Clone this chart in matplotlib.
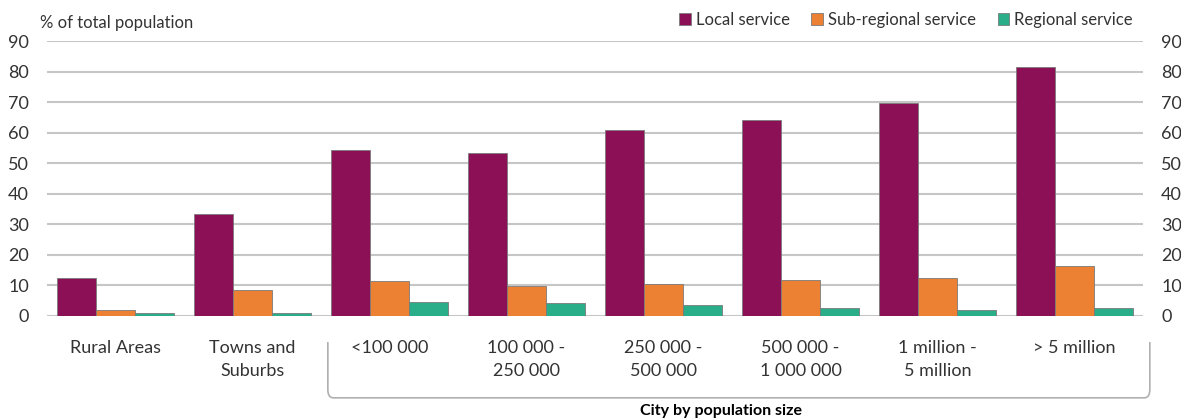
import matplotlib.pyplot as plt
import matplotlib.transforms as mtransforms
from matplotlib.path import Path
import matplotlib.patches as patches
import numpy as np

plt.rcParams['font.family'] = ['Lato', 'DejaVu Sans']

categories = ['Rural Areas', 'Towns and\nSuburbs', '<100 000', '100 000 -\n250 000',
              '250 000 -\n500 000', '500 000 -\n1 000 000', '1 million -\n5 million', '> 5 million']
local = [12.3, 33.3, 54.4, 53.4, 61.0, 64.2, 69.8, 81.5]
sub_regional = [1.8, 8.6, 11.3, 9.9, 10.6, 11.6, 12.5, 16.5]
regional = [0.8, 0.9, 4.6, 4.1, 3.5, 2.5, 2.0, 2.5]
series_names = ['Local service', 'Sub-regional service', 'Regional service']
colors = ['#8C1056', '#ED8133', '#2AAE8A']

fig = plt.figure(figsize=(11.81, 4.19), dpi=100)
ax = fig.add_axes([0.0398, 0.246, 0.928, 0.656])

x = np.arange(len(categories))
w = 0.285
for k, (vals, name, c) in enumerate(zip([local, sub_regional, regional], series_names, colors)):
    ax.bar(x + (k - 1) * w, vals, width=w, color=c, edgecolor='#7a7a7a', linewidth=0.6,
           label=name, zorder=3)

ax.set_xlim(-0.5, len(categories) - 0.5)
ax.set_ylim(0, 90)
ax.set_yticks(range(0, 91, 10))
ax.yaxis.grid(True, color='#c6c6c6', linewidth=1.5, zorder=0)
ax.set_axisbelow(True)
for s in ax.spines.values():
    s.set_visible(False)
ax.tick_params(axis='y', length=0, labelsize=13, labelcolor='#333333', pad=13,
               labelright=True, right=False)
ax.tick_params(axis='x', length=0, labelsize=13, labelcolor='#333333', pad=17)
ax.set_xticks(x)
ax.set_xticklabels(categories, linespacing=1.55, va='top')

fig.text(0.034, 0.945, '% of total population', fontsize=12, color='#333333',
         ha='left', va='center')

fig.legend(loc='center right', bbox_to_anchor=(0.972, 0.952), ncol=3, frameon=False,
           fontsize=12, handlelength=0.7, handleheight=0.7, handletextpad=0.3,
           columnspacing=1.3, labelcolor='#333333')

# bracket under the city groups
trans = mtransforms.blended_transform_factory(ax.transData, ax.transAxes)
x0, x1 = 1.55, 7.55
yt, yb = -0.095, -0.298
rx, ry = 0.04, 0.03
verts = [(x0, yt), (x0, yb + ry), (x0, yb), (x0 + rx, yb), (x1 - rx, yb), (x1, yb),
         (x1, yb + ry), (x1, yt)]
codes = [Path.MOVETO, Path.LINETO, Path.CURVE3, Path.CURVE3, Path.LINETO, Path.CURVE3,
         Path.CURVE3, Path.LINETO]
ax.add_patch(patches.PathPatch(Path(verts, codes), transform=trans, fill=False,
                               edgecolor='#b0b0b0', linewidth=1.2, clip_on=False))
ax.text(4.42, -0.345, 'City by population size', transform=trans,
        ha='center', va='center', fontsize=11.5, fontweight='bold', color='black')

fig.savefig('out.png', dpi=100)
